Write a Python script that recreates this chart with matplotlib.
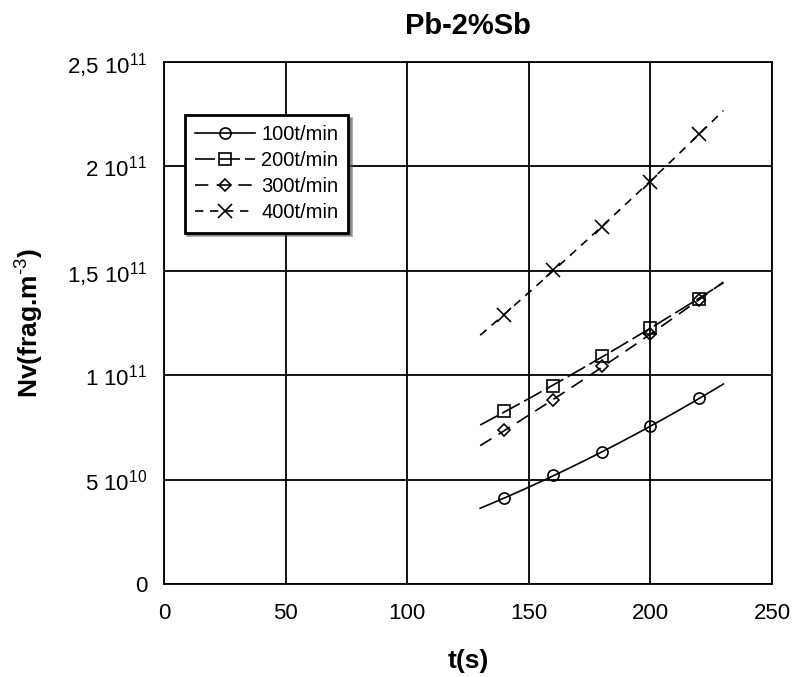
import numpy as np
import matplotlib
matplotlib.use("Agg")
import matplotlib.pyplot as plt
from matplotlib.lines import Line2D
from matplotlib.ticker import FixedLocator, FixedFormatter

plt.rcParams['font.family'] = ['Liberation Sans', 'DejaVu Sans']
plt.rcParams['mathtext.fontset'] = 'custom'
plt.rcParams['mathtext.rm'] = 'Liberation Sans'
plt.rcParams['mathtext.bf'] = 'Liberation Sans:bold'

# time (s)
t = [140, 160, 180, 200, 220]

# Nv (frag.m^-3)
nv_100 = [4.11e10, 5.21e10, 6.31e10, 7.55e10, 8.89e10]
nv_200 = [8.27e10, 9.46e10, 10.9e10, 12.28e10, 13.67e10]
nv_300 = [7.36e10, 8.8e10, 10.42e10, 11.95e10, 13.62e10]
nv_400 = [12.9e10, 15.06e10, 17.11e10, 19.26e10, 21.56e10]

labels = ["100t/min", "200t/min", "300t/min", "400t/min"]
series = [nv_100, nv_200, nv_300, nv_400]

# trend line range
fit_from, fit_to = 130, 230

yticks = [0, 5e10, 1e11, 1.5e11, 2e11, 2.5e11]
ytick_labels = ["0", r"5 10$^{10}$", r"1 10$^{11}$", r"1,5 10$^{11}$",
                r"2 10$^{11}$", r"2,5 10$^{11}$"]

markers = ["o", "s", "D", "x"]
msizes = [8, 9, 6, 10]
lstyles = ["-", (0, (12, 3)), (0, (8, 5)), (0, (5, 4))]

fig = plt.figure(figsize=(7.94, 6.77), dpi=100)
ax = fig.add_axes([164/794, 1 - 584/677, 608/794, 522/677])

handles = []
tt = np.linspace(fit_from, fit_to, 60)
for vals, lab, m, ms, ls in zip(series, labels, markers, msizes, lstyles):
    coef = np.polyfit(t, vals, 2)
    ax.plot(tt, np.polyval(coef, tt), color="black", lw=1.2, ls=ls)
    ax.plot(t, vals, ls="none", marker=m, ms=ms, mfc="none", mec="black",
            mew=1.2)
    handles.append(Line2D([], [], color="black", lw=1.2, ls=ls, marker=m,
                          ms=ms, mfc="none", mec="black", mew=1.2, label=lab))

ax.set_xlim(0, 250)
ax.set_ylim(0, 2.5e11)
ax.set_xticks([0, 50, 100, 150, 200, 250])
ax.yaxis.set_major_locator(FixedLocator(yticks))
ax.yaxis.set_major_formatter(FixedFormatter(ytick_labels))
ax.grid(True, color="black", lw=1.3)
ax.tick_params(axis="y", length=0, labelsize=16, pad=12)
ax.tick_params(axis="x", length=0, labelsize=16, pad=14)
for s in ax.spines.values():
    s.set_linewidth(1.3)

ax.set_title("Pb-2%Sb", fontsize=21, fontweight="bold", pad=20)
ax.set_xlabel("t(s)", fontsize=19, fontweight="bold", labelpad=18)
ax.set_ylabel(r"Nv(frag.m$^{\text{-3}}$)", fontsize=19, fontweight="bold",
              labelpad=16)

leg = ax.legend(handles=handles, loc="upper left",
                bbox_to_anchor=(0.034, 0.898), fontsize=14.5, handlelength=3,
                fancybox=False, shadow=True, framealpha=1, borderaxespad=0,
                labelspacing=0.35, handletextpad=0.3, borderpad=0.5)
leg.get_frame().set_edgecolor("black")
leg.get_frame().set_linewidth(2)

fig.savefig("out.png", dpi=100)
